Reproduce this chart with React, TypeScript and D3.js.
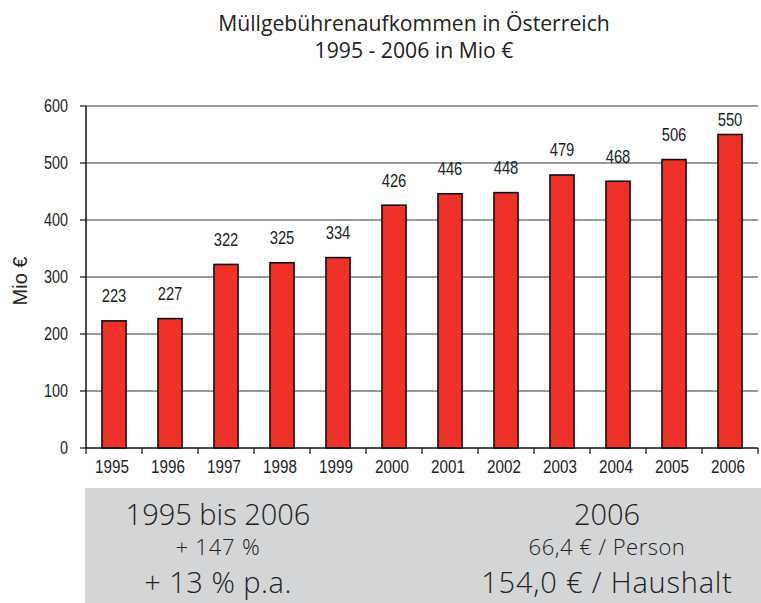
import React from "react";
import * as d3 from "d3";

const years = ["1995", "1996", "1997", "1998", "1999", "2000", "2001", "2002", "2003", "2004", "2005", "2006"];
const values = [223, 227, 322, 325, 334, 426, 446, 448, 479, 468, 506, 550];
const yTicks = [0, 100, 200, 300, 400, 500, 600];
const titleLines = ["Müllgebührenaufkommen in Österreich", "1995 - 2006 in Mio €"];
const yAxisTitle = "Mio €";
const leftBox = ["1995 bis 2006", "+ 147 %", "+ 13 % p.a."];
const rightBox = ["2006", "66,4 € / Person", "154,0 € / Haushalt"];

const W = 761, H = 603;
const plot = { left: 86, right: 758, top: 106, bottom: 448 };
const arial = "'Liberation Sans', Arial, sans-serif";
const sans = "'Open Sans', 'Noto Sans', sans-serif";

function NText({ x, y, children, anchor = "middle", size = 17.5, dy = "0" }: any) {
  return (
    <text transform={`translate(${x},${y}) scale(0.8,1)`} textAnchor={anchor} dy={dy}
      fontFamily={arial} fontSize={size} fill="#222">{children}</text>
  );
}

export default function App() {
  const x = d3.scaleBand<string>().domain(years).range([plot.left, plot.right]).paddingInner(0.57).paddingOuter(0.285);
  const y = d3.scaleLinear().domain([0, 600]).range([plot.bottom, plot.top]);
  const step = x.step();
  const boundaries = d3.range(years.length + 1).map((i) => plot.left + i * step);

  return (
    <svg width={W} height={H} style={{ position: "absolute", left: 0, top: 0, background: "#fff" }}>
      {/* title */}
      <g fontFamily={sans} fontSize={21.2} fill="#222" textAnchor="middle">
        <text x={414} y={31}>{titleLines[0]}</text>
        <text x={414} y={57.5}>{titleLines[1]}</text>
      </g>

      {/* gridlines */}
      {yTicks.filter((t) => t > 0).map((t) => (
        <line key={t} x1={plot.left} x2={plot.right} y1={y(t)} y2={y(t)} stroke="#333" strokeWidth={1} />
      ))}

      {/* bars */}
      {values.map((v, i) => (
        <rect key={years[i]} x={x(years[i])} y={y(v)} width={x.bandwidth()} height={y(0) - y(v)}
          fill="#EE3129" stroke="#111" strokeWidth={1.6} />
      ))}

      {/* value labels */}
      {values.map((v, i) => (
        <NText key={years[i]} x={(x(years[i]) as number) + x.bandwidth() / 2} y={Math.max(y(v) - 18.5, 126)} size={18.5}>{v}</NText>
      ))}

      {/* axes */}
      <line x1={plot.left} x2={plot.left} y1={plot.top} y2={plot.bottom} stroke="#111" strokeWidth={1.5} />
      <line x1={plot.left} x2={plot.right} y1={plot.bottom} y2={plot.bottom} stroke="#111" strokeWidth={1.5} />
      {yTicks.map((t) => (
        <g key={t}>
          <line x1={plot.left - 6} x2={plot.left} y1={y(t)} y2={y(t)} stroke="#111" strokeWidth={1.2} />
          <NText x={68} y={y(t)} anchor="end" dy="0.36em" size={18}>{t}</NText>
        </g>
      ))}
      {boundaries.map((b, i) => (
        <line key={i} x1={b} x2={b} y1={plot.bottom} y2={plot.bottom + 6} stroke="#111" strokeWidth={1.2} />
      ))}
      {years.map((yr) => (
        <NText key={yr} x={(x(yr) as number) + x.bandwidth() / 2 - 2} y={473} size={19}>{yr}</NText>
      ))}
      <text transform={`translate(27,${281}) rotate(-90)`} textAnchor="middle" fontFamily={arial} fontSize={20} fill="#222">{yAxisTitle}</text>

      {/* summary box */}
      <rect x={85} y={488} width={W - 85} height={H - 488} fill="#D4D5D7" />
      <g fontFamily={sans} fontWeight={300} fill="#222" textAnchor="middle">
        <text x={218} y={525} fontSize={29}>{leftBox[0]}</text>
        <text x={218} y={555} fontSize={22} letterSpacing={0.8}>{leftBox[1]}</text>
        <text x={218} y={593} fontSize={29} letterSpacing={0.5}>{leftBox[2]}</text>
        <text x={607} y={525} fontSize={29}>{rightBox[0]}</text>
        <text x={607} y={555} fontSize={22} letterSpacing={0.5}>{rightBox[1]}</text>
        <text x={607} y={593} fontSize={29} letterSpacing={0.8}>{rightBox[2]}</text>
      </g>
    </svg>
  );
}
